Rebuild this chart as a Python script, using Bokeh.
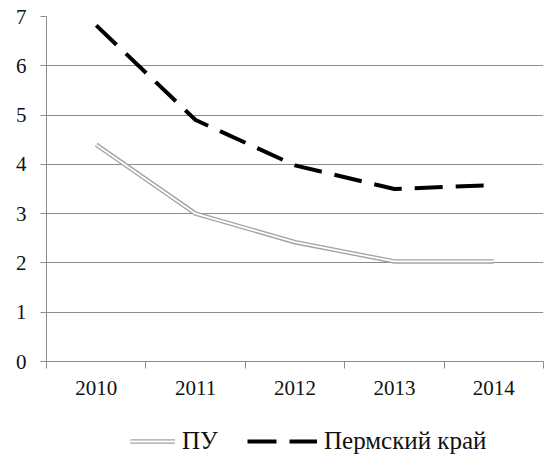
from bokeh.plotting import figure
from bokeh.layouts import column
from bokeh.models import FixedTicker, Legend, LegendItem, Range1d
from bokeh.embed import file_html
from bokeh.resources import INLINE

years = ["2010", "2011", "2012", "2013", "2014"]
pu = [4.4, 3.0, 2.42, 2.03, 2.03]
perm = [6.82, 4.9, 3.98, 3.5, 3.58]
y_ticks = [0, 1, 2, 3, 4, 5, 6, 7]

FONT = "Liberation Serif"
GRID = "#8c8c8c"
TXT = "#111111"

xs = [i + 0.5 for i in range(len(years))]

p = figure(frame_width=497, frame_height=345, output_backend="svg", toolbar_location=None,
           x_range=Range1d(0, len(years)), y_range=Range1d(0, 7),
           min_border_left=46, min_border_right=1, min_border_top=16, min_border_bottom=60)
p.outline_line_color = None
p.background_fill_color = "white"
p.border_fill_color = "white"

# y axis
p.yaxis.ticker = FixedTicker(ticks=y_ticks)
p.yaxis.axis_line_color = GRID
p.yaxis.major_tick_line_color = GRID
p.yaxis.major_tick_out = 6
p.yaxis.major_tick_in = 0
p.yaxis.minor_tick_line_color = None
p.yaxis.major_label_text_font = FONT
p.yaxis.major_label_text_font_size = "21px"
p.yaxis.major_label_text_color = TXT
p.yaxis.major_label_standoff = 14

# x axis: labels at centers, ticks at category boundaries
p.xaxis.ticker = FixedTicker(ticks=xs, minor_ticks=list(range(len(years) + 1)))
p.xaxis.major_label_overrides = {x: y for x, y in zip(xs, years)}
p.xaxis.axis_line_color = GRID
p.xaxis.major_tick_line_color = None
p.xaxis.minor_tick_line_color = GRID
p.xaxis.minor_tick_out = 7
p.xaxis.minor_tick_in = 0
p.xaxis.major_label_text_font = FONT
p.xaxis.major_label_text_font_size = "21px"
p.xaxis.major_label_text_color = TXT
p.xaxis.major_label_standoff = 12

p.xgrid.grid_line_color = None
p.ygrid.ticker = FixedTicker(ticks=y_ticks[1:])
p.ygrid.grid_line_color = GRID
p.ygrid.grid_line_width = 1

p.line(xs, pu, line_color="#a3a3a3", line_width=4.5, line_join="round")
p.line(xs, pu, line_color="white", line_width=1.8, line_join="round")
p.line(xs, perm, line_color="black", line_width=4, line_dash="28 13")

# legend strip below the chart
p2 = figure(width=544, height=35, output_backend="svg", toolbar_location=None,
            x_range=Range1d(100, 101), y_range=Range1d(100, 101),
            x_axis_location=None, y_axis_location=None,
            min_border_left=0, min_border_right=0, min_border_top=0, min_border_bottom=0)
p2.outline_line_color = None
p2.grid.visible = False
p2.background_fill_color = "white"
p2.border_fill_color = "white"
l_pu_outer = p2.line(xs, pu, line_color="#a3a3a3", line_width=4.5)
l_pu_inner = p2.line(xs, pu, line_color="white", line_width=1.8)
l_perm = p2.line(xs, perm, line_color="black", line_width=4, line_dash="29 13")

common = dict(orientation="horizontal", label_text_font=FONT, label_text_font_size="25px",
              label_text_color=TXT, glyph_height=20, label_standoff=7, padding=0, margin=0,
              border_line_color=None, background_fill_alpha=0)
leg1 = Legend(items=[LegendItem(label="ПУ", renderers=[l_pu_outer, l_pu_inner])],
              location=(84, 1), glyph_width=45, **common)
leg2 = Legend(items=[LegendItem(label="Пермский край", renderers=[l_perm])],
              location=(201, 1), glyph_width=70, **common)
p2.add_layout(leg1)
p2.add_layout(leg2)

layout = column(p, p2, spacing=0)
open("out.html", "w").write(file_html(layout, INLINE))
